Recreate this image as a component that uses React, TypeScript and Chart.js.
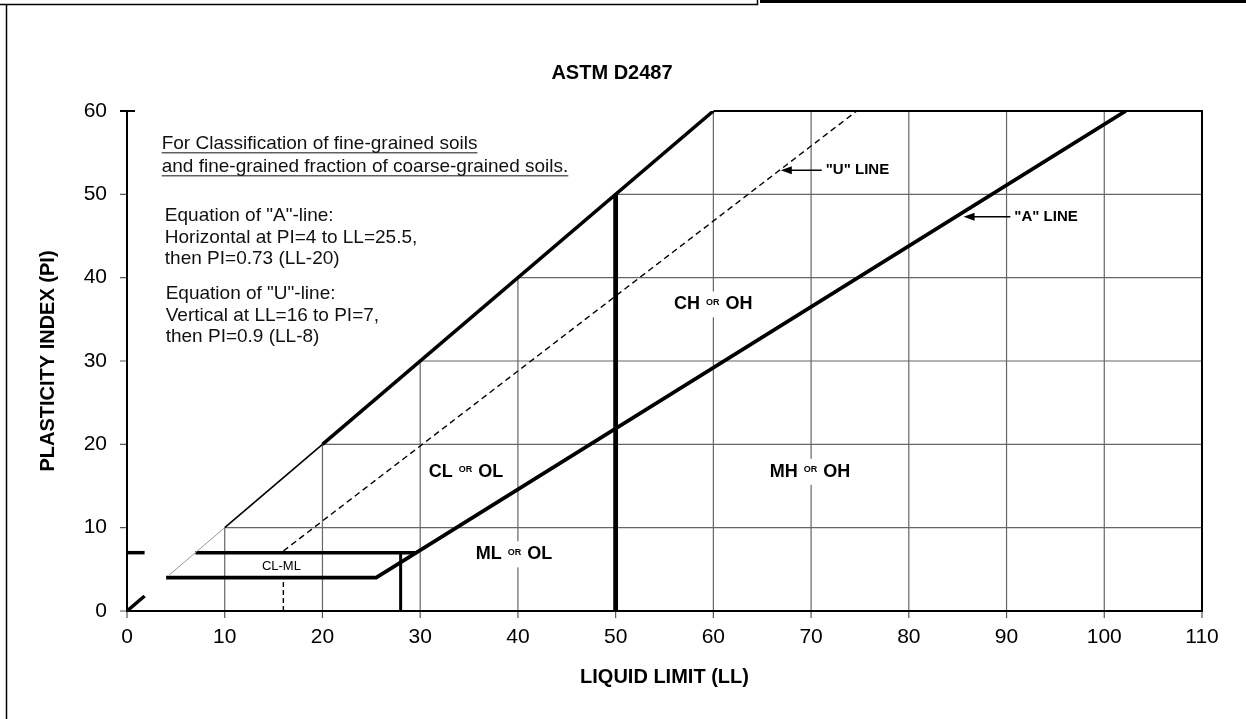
import React, { useEffect, useRef } from "react";
import { Chart, registerables } from "chart.js";

Chart.register(...registerables);

const FONT = '"Liberation Sans", Arial, Helvetica, sans-serif';

// ---- axes ----
const LL_RANGE = [0, 110];
const PI_RANGE = [0, 60];
const TICK_STEP = 10;
const LL_GRID = [10, 20, 30, 40, 50, 60, 70, 80, 90, 100];
const PI_GRID = [10, 20, 30, 40, 50];

// ---- chart lines (LL, PI) ----
const A_LINE_LL = [4, 25.5, 102.2];
const A_LINE_PI = [4, 4, 60];
const U_LINE_LL = [16, 74.67];
const U_LINE_PI = [7.2, 60];
const U_VERT_LL = [16, 16];
const U_VERT_PI = [0, 4];
const PI7_LINE_LL = [7, 29.6];
const PI7_LINE_PI = [7, 7];
const PI7_STUB_LL = [0, 1.8];
const PI7_STUB_PI = [7, 7];
const LL28_LL = [28, 28];
const LL28_PI = [0, 7];
const LL50_LL = [50, 50];
const LL50_PI = [0, 50];
const UPPER_THICK_LL = [20, 60];
const UPPER_THICK_PI = [20, 60];
const UPPER_MED_LL = [10, 20];
const UPPER_MED_PI = [10, 20];
const UPPER_THIN_LL = [4.3, 10];
const UPPER_THIN_PI = [4.3, 10];
const UPPER_STUB_LL = [0, 1.8];
const UPPER_STUB_PI = [0, 1.8];

// ---- zone labels ----
const ZONE_MAIN = ["CL", "ML", "CH", "MH"];
const ZONE_ALT = ["OL", "OL", "OH", "OH"];
const ZONE_LL = [34.7, 39.6, 60, 69.9];
const ZONE_PI = [16.7, 6.8, 36.8, 16.7];

const CLML_TEXT = "CL-ML";
const CLML_LL = 15.8;
const CLML_PI = 5.4;

// ---- line labels with arrows ----
const LINE_LABELS = ['"U" LINE', '"A" LINE'];
const LINE_LABEL_LL = [71.5, 90.8];
const LINE_LABEL_PI = [52.9, 47.3];
const ARROW_TIP_LL = [66.9, 85.6];

// ---- notes ----
const NOTE_UNDERLINED = [
  "For Classification of fine-grained soils",
  "and fine-grained fraction of coarse-grained soils.",
];
const NOTE_UNDERLINED_LL = 3.55;
const NOTE_UNDERLINED_PI = [56.06, 53.3];
const NOTE_A = [
  'Equation of "A"-line:',
  "Horizontal at PI=4 to LL=25.5,",
  "then PI=0.73 (LL-20)",
];
const NOTE_A_LL = 3.87;
const NOTE_A_PI = [47.4, 44.8, 42.3];
const NOTE_U = [
  'Equation of "U"-line:',
  "Vertical at LL=16 to PI=7,",
  "then PI=0.9 (LL-8)",
];
const NOTE_U_LL = 3.96;
const NOTE_U_PI = [38.05, 35.4, 32.9];

const pts = (xs: number[], ys: number[]) => xs.map((x, i) => ({ x, y: ys[i] }));

const seg = (xs: number[], ys: number[], width: number, color = "#000", dash: number[] = []) => ({
  data: pts(xs, ys),
  borderColor: color,
  borderWidth: width,
  borderDash: dash,
  pointRadius: 0,
  fill: false,
  tension: 0,
  showLine: true,
  borderJoinStyle: "miter" as const,
  borderCapStyle: "butt" as const,
});

const framePlugin = {
  id: "frame",
  beforeDraw(chart: any) {
    const ctx = chart.ctx;
    ctx.save();
    ctx.fillStyle = "#fff";
    ctx.fillRect(0, 0, chart.width, chart.height);
    ctx.strokeStyle = "#000";
    ctx.lineWidth = 1.5;
    ctx.beginPath();
    ctx.moveTo(0, 4.5);
    ctx.lineTo(757.5, 4.5);
    ctx.lineTo(757.5, 0);
    ctx.moveTo(6.5, 4.5);
    ctx.lineTo(6.5, chart.height);
    ctx.stroke();
    ctx.fillStyle = "#000";
    ctx.fillRect(760, 0, chart.width - 760, 3);
    ctx.restore();
  },
};

const gridPlugin = {
  id: "clippedGrid",
  beforeDatasetsDraw(chart: any) {
    const ctx = chart.ctx;
    const xs = chart.scales.x;
    const ys = chart.scales.y;
    const X = (v: number) => xs.getPixelForValue(v);
    const Y = (v: number) => ys.getPixelForValue(v);
    ctx.save();
    ctx.strokeStyle = "#666";
    ctx.lineWidth = 1.2;
    ctx.beginPath();
    PI_GRID.forEach((v) => {
      ctx.moveTo(X(v), Y(v));
      ctx.lineTo(X(LL_RANGE[1]), Y(v));
    });
    LL_GRID.forEach((v) => {
      ctx.moveTo(X(v), Y(0));
      ctx.lineTo(X(v), Y(Math.min(v, PI_RANGE[1])));
    });
    ctx.stroke();
    // tick marks
    ctx.strokeStyle = "#555";
    ctx.lineWidth = 1.2;
    ctx.beginPath();
    for (let v = PI_RANGE[0]; v < PI_RANGE[1]; v += TICK_STEP) {
      ctx.moveTo(X(0) - 7, Y(v));
      ctx.lineTo(X(0), Y(v));
    }
    for (let v = LL_RANGE[0]; v <= LL_RANGE[1]; v += TICK_STEP) {
      ctx.moveTo(X(v), Y(0));
      ctx.lineTo(X(v), Y(0) + 7);
    }
    ctx.stroke();
    // borders
    ctx.strokeStyle = "#000";
    ctx.lineWidth = 2;
    ctx.beginPath();
    ctx.moveTo(X(0) - 7, Y(60));
    ctx.lineTo(X(0) + 8, Y(60));
    ctx.moveTo(X(0), Y(60));
    ctx.lineTo(X(0), Y(0));
    ctx.lineTo(X(110), Y(0));
    ctx.lineTo(X(110), Y(60));
    ctx.lineTo(X(60), Y(60));
    ctx.stroke();

    // zone labels with white backing
    ZONE_MAIN.forEach((m, i) => {
      const cx = X(ZONE_LL[i]);
      const cy = Y(ZONE_PI[i]);
      const a = m;
      const b = ZONE_ALT[i];
      ctx.font = `bold 18px ${FONT}`;
      const wa = ctx.measureText(a).width;
      const wb = ctx.measureText(b).width;
      ctx.font = `bold 9px ${FONT}`;
      const wo = ctx.measureText("OR").width;
      const gap = 6;
      const total = wa + gap + wo + gap + wb;
      let x = cx - total / 2;
      ctx.fillStyle = "#fff";
      ctx.fillRect(x - 3, cy - 13, total + 6, 26);
      ctx.fillStyle = "#000";
      ctx.textBaseline = "middle";
      ctx.textAlign = "left";
      ctx.font = `bold 18px ${FONT}`;
      ctx.fillText(a, x, cy);
      x += wa + gap;
      ctx.font = `bold 9px ${FONT}`;
      ctx.fillText("OR", x, cy - 2);
      x += wo + gap;
      ctx.font = `bold 18px ${FONT}`;
      ctx.fillText(b, x, cy);
    });
    ctx.restore();
  },
  afterDatasetsDraw(chart: any) {
    const ctx = chart.ctx;
    const xs = chart.scales.x;
    const ys = chart.scales.y;
    const X = (v: number) => xs.getPixelForValue(v);
    const Y = (v: number) => ys.getPixelForValue(v);
    ctx.save();
    ctx.fillStyle = "#000";
    ctx.textBaseline = "middle";

    // CL-ML
    ctx.font = `13px ${FONT}`;
    ctx.textAlign = "center";
    ctx.fillText(CLML_TEXT, X(CLML_LL), Y(CLML_PI));

    // arrow labels
    LINE_LABELS.forEach((t, i) => {
      const y = Y(LINE_LABEL_PI[i]);
      const tip = X(ARROW_TIP_LL[i]);
      const tx = X(LINE_LABEL_LL[i]);
      ctx.strokeStyle = "#000";
      ctx.lineWidth = 1.5;
      ctx.beginPath();
      ctx.moveTo(tip + 8, y);
      ctx.lineTo(tx - 4, y);
      ctx.stroke();
      ctx.beginPath();
      ctx.moveTo(tip, y);
      ctx.lineTo(tip + 11, y - 4);
      ctx.lineTo(tip + 11, y + 4);
      ctx.closePath();
      ctx.fill();
      ctx.font = `bold 15px ${FONT}`;
      ctx.textAlign = "left";
      ctx.fillText(t, tx, y);
    });

    // notes
    ctx.textAlign = "left";
    ctx.font = `19px ${FONT}`;
    ctx.fillStyle = "#111";
    NOTE_UNDERLINED.forEach((t, i) => {
      const x = X(NOTE_UNDERLINED_LL);
      const y = Y(NOTE_UNDERLINED_PI[i]);
      ctx.fillText(t, x, y);
      const w = ctx.measureText(t).width;
      ctx.strokeStyle = "#111";
      ctx.lineWidth = 1;
      ctx.beginPath();
      ctx.moveTo(x, y + 9);
      ctx.lineTo(x + w, y + 9);
      ctx.stroke();
    });
    NOTE_A.forEach((t, i) => ctx.fillText(t, X(NOTE_A_LL), Y(NOTE_A_PI[i])));
    NOTE_U.forEach((t, i) => ctx.fillText(t, X(NOTE_U_LL), Y(NOTE_U_PI[i])));
    ctx.restore();
  },
};

export default function App() {
  const ref = useRef<HTMLCanvasElement | null>(null);
  useEffect(() => {
    document.body.style.margin = "0";
    const canvas = ref.current;
    if (!canvas) return;
    const chart = new Chart(canvas, {
      type: "line",
      data: {
        datasets: [
          seg(UPPER_STUB_LL, UPPER_STUB_PI, 3.5),
          seg(UPPER_THIN_LL, UPPER_THIN_PI, 1, "#999"),
          seg(UPPER_MED_LL, UPPER_MED_PI, 1.6),
          seg(UPPER_THICK_LL, UPPER_THICK_PI, 3.5),
          seg(U_LINE_LL, U_LINE_PI, 1.4, "#000", [6, 4]),
          seg(U_VERT_LL, U_VERT_PI, 1.4, "#000", [5, 3]),
          seg(PI7_STUB_LL, PI7_STUB_PI, 3.5),
          seg(PI7_LINE_LL, PI7_LINE_PI, 3.5),
          seg(LL28_LL, LL28_PI, 3),
          seg(LL50_LL, LL50_PI, 4.8),
          seg(A_LINE_LL, A_LINE_PI, 3.8),
        ] as any,
      },
      options: {
        animation: false,
        responsive: false,
        devicePixelRatio: 1,
        layout: { padding: { left: 22, right: 44, top: 0, bottom: 0 } },
        plugins: {
          legend: { display: false },
          tooltip: { enabled: false },
          title: {
            display: true,
            text: "ASTM D2487",
            color: "#000",
            font: { family: FONT, size: 20, weight: "bold" },
            padding: { top: 61, bottom: 26 },
          },
        },
        scales: {
          x: {
            type: "linear",
            min: LL_RANGE[0],
            max: LL_RANGE[1],
            grid: { display: false, drawTicks: false },
            border: { display: false },
            ticks: {
              stepSize: TICK_STEP,
              autoSkip: false,
              maxRotation: 0,
              color: "#000",
              padding: 14,
              font: { family: FONT, size: 21 },
            },
            title: {
              display: true,
              text: "LIQUID LIMIT (LL)",
              color: "#000",
              font: { family: FONT, size: 20, weight: "bold" },
              padding: { top: 0, bottom: 30 },
            },
            afterFit: (s: any) => {
              s.height = 108;
              s.paddingLeft = 0;
              s.paddingRight = 0;
            },
          },
          y: {
            type: "linear",
            min: PI_RANGE[0],
            max: PI_RANGE[1],
            grid: { display: false, drawTicks: false },
            border: { display: false },
            ticks: {
              stepSize: TICK_STEP,
              color: "#000",
              padding: 20,
              font: { family: FONT, size: 21 },
            },
            title: {
              display: true,
              text: "PLASTICITY INDEX (PI)",
              color: "#000",
              font: { family: FONT, size: 20, weight: "bold" },
              padding: { top: 14, bottom: 0 },
            },
            afterFit: (s: any) => {
              s.width = 105;
              s.paddingTop = 0;
              s.paddingBottom = 0;
            },
          },
        },
      },
      plugins: [framePlugin, gridPlugin],
    });
    return () => chart.destroy();
  }, []);
  return (
    <div style={{ width: 1246, height: 719, position: "relative" }}>
      <canvas ref={ref} width={1246} height={719} style={{ width: 1246, height: 719, display: "block" }} />
    </div>
  );
}
